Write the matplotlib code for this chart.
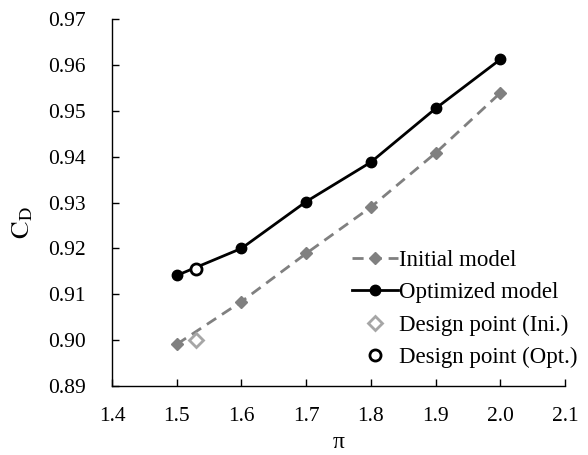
import matplotlib
matplotlib.use("Agg")
import matplotlib.pyplot as plt

plt.rcParams['font.family'] = ['Liberation Serif', 'DejaVu Serif']
plt.rcParams['mathtext.fontset'] = 'stix'

# data
pi_vals = [1.5, 1.6, 1.7, 1.8, 1.9, 2.0]
cd_initial = [0.8991, 0.9084, 0.9189, 0.9290, 0.9408, 0.9539]
cd_optimized = [0.9141, 0.9200, 0.9302, 0.9388, 0.9505, 0.9612]
design_pi = [1.53]
design_ini = [0.9000]
design_opt = [0.9155]

x_ticks = [1.4, 1.5, 1.6, 1.7, 1.8, 1.9, 2.0, 2.1]
y_ticks = [0.89, 0.90, 0.91, 0.92, 0.93, 0.94, 0.95, 0.96, 0.97]

fig = plt.figure(figsize=(5.88, 4.55), dpi=100)
ax = fig.add_axes([0.1905, 0.1516, 0.7705, 0.8066])

ax.plot(pi_vals, cd_initial, color='#808080', linestyle=(0, (4, 2.5)), linewidth=2,
        marker='D', markersize=6, label='Initial model')
ax.plot(pi_vals, cd_optimized, color='black', linewidth=2,
        marker='o', markersize=7.5, label='Optimized model')
ax.plot(design_pi, design_ini, linestyle='none', marker='D', markersize=7,
        markerfacecolor='white', markeredgecolor='#a6a6a6', markeredgewidth=2,
        label='Design point (Ini.)')
ax.plot(design_pi, design_opt, linestyle='none', marker='o', markersize=8,
        markerfacecolor='white', markeredgecolor='black', markeredgewidth=2,
        label='Design point (Opt.)')

ax.set_xlim(1.4, 2.1)
ax.set_ylim(0.89, 0.97)
ax.set_xticks(x_ticks)
ax.set_xticklabels([f'{v:.1f}' for v in x_ticks])
ax.set_yticks(y_ticks)
ax.set_yticklabels([f'{v:.2f}' for v in y_ticks])
ax.tick_params(direction='in', length=5, width=1, labelsize=15.5)
ax.tick_params(axis='x', pad=15)
ax.tick_params(axis='y', pad=19)

ax.spines['top'].set_visible(False)
ax.spines['right'].set_visible(False)
for s in ['left', 'bottom']:
    ax.spines[s].set_linewidth(1)

ax.set_xlabel('π', fontsize=17, va='center')
ax.xaxis.set_label_coords(0.5, -0.155)
ax.set_ylabel('$\\mathrm{C_D}$', fontsize=19, va='center')
ax.yaxis.set_label_coords(-0.197, 0.444)

ax.legend(loc='upper left', bbox_to_anchor=(0.53, 0.371), frameon=False, fontsize=16.5,
          handlelength=2.0, handletextpad=0.05, labelspacing=0.49, borderpad=0,
          borderaxespad=0)

fig.savefig('out.png', dpi=100)
